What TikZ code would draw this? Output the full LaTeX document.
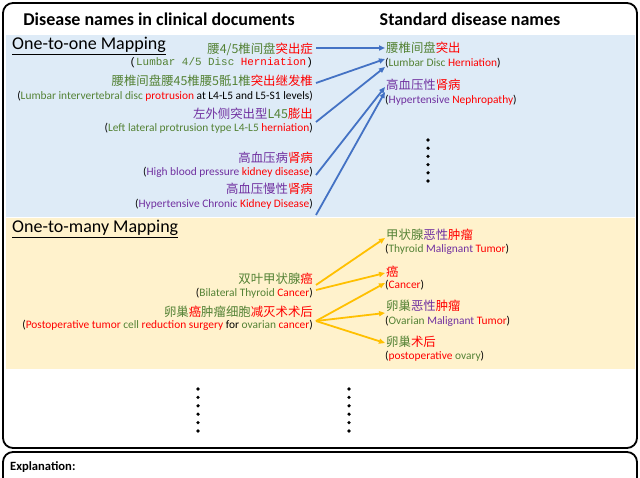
\documentclass[tikz,border=0pt]{standalone}
\usepackage{fontspec}
\setmainfont{Carlito}
\newfontfamily\cjk{Noto Sans CJK SC}
\newfontfamily\monof{Liberation Mono}
\usetikzlibrary{arrows.meta,calc}
\definecolor{cg}{RGB}{84,130,53}
\definecolor{cpu}{RGB}{112,48,160}
\definecolor{crd}{RGB}{255,0,0}
\definecolor{bandblue}{RGB}{222,235,247}
\definecolor{bandyel}{RGB}{255,242,204}
\definecolor{arblue}{RGB}{68,114,196}
\definecolor{aryel}{RGB}{255,192,0}
\newcommand\cgr[1]{\textcolor{cg}{#1}}
\newcommand\crd[1]{\textcolor{crd}{#1}}
\newcommand\cpu[1]{\textcolor{cpu}{#1}}
\tikzset{
  zh/.style={inner sep=0pt,font=\cjk\fontsize{12.4}{14}\selectfont},
  en/.style={inner sep=0pt,font=\fontsize{11.4}{13}\selectfont},
  mo/.style={inner sep=0pt,font=\monof\fontsize{10.9}{13}\selectfont},
  lt/.style={anchor=east},
  rt/.style={anchor=west},
  hdr/.style={inner sep=0pt,font=\bfseries\fontsize{18}{21}\selectfont},
  sec/.style={inner sep=0pt,anchor=west,font=\fontsize{18}{21}\selectfont},
  barrow/.style={draw=arblue,line width=1.8pt,-{Triangle[length=6pt,width=5pt]}},
  yarrow/.style={draw=aryel,line width=1.8pt,-{Triangle[length=6pt,width=5pt]}},
  dotc/.style={fill=black,circle,inner sep=0pt,minimum size=3.6pt},
  frame/.style={draw=black,line width=1.8pt,rounded corners=10pt}
}
\begin{document}
\begin{tikzpicture}[x=1pt,y=-1pt]
\useasboundingbox (0,0) rectangle (640,478);
% bands
\fill[bandblue] (6,35) rectangle (635,217);
\fill[bandyel] (6,218) rectangle (635,369);
% frames
\draw[frame] (3,3) rectangle (637,448);
\draw[frame] (3,452) rectangle (637,520);
% headers
\node[hdr] (h1) at (159,19) {Disease names in clinical documents};
\node[hdr] (h2) at (470,19) {Standard disease names};
\node[sec] (s1) at (12,46) {\underline{One-to-one Mapping}};
\node[sec] (s2) at (12,229) {\underline{One-to-many Mapping}};
\node[inner sep=0pt,anchor=west,font=\bfseries\fontsize{12.6}{15}\selectfont] (ex) at (10,467) {Explanation:};
% left, one-to-one
\node[zh,lt] (l1) at (313,49) {\cgr{腰4/5椎间盘}\crd{突出症}};
\node[mo,lt] (l1e) at (313,63) {(\cgr{Lumbar 4/5 Disc }\crd{Herniation})};
\node[zh,lt] (l2) at (313,81) {\cgr{腰椎间盘腰45椎腰5骶1椎}\crd{突出继发椎}};
\node[en,lt] (l2e) at (313,96) {(\cgr{Lumbar intervertebral disc }\crd{protrusion} at L4-L5 and L5-S1 levels)};
\node[zh,lt] (l3) at (313,114) {\cpu{左外侧突出型}\cgr{L45}\crd{膨出}};
\node[en,lt] (l3e) at (313,128) {(\cgr{Left lateral protrusion type L4-L5 }\crd{herniation})};
\node[zh,lt] (l4) at (313,158) {\cpu{高血压病}\crd{肾病}};
\node[en,lt] (l4e) at (313,172) {(\cpu{High blood pressure }\crd{kidney disease})};
\node[zh,lt] (l5) at (313,189) {\cpu{高血压慢性}\crd{肾病}};
\node[en,lt] (l5e) at (313,204) {(\cpu{Hypertensive Chronic }\crd{Kidney Disease})};
% right, one-to-one
\node[zh,rt] (r1) at (386,48) {\cgr{腰椎间盘}\crd{突出}};
\node[en,rt] (r1e) at (385,63) {(\cgr{Lumbar Disc }\crd{Herniation})};
\node[zh,rt] (r2) at (386,85) {\cpu{高血压性}\crd{肾病}};
\node[en,rt] (r2e) at (385,100) {(\cpu{Hypertensive }\crd{Nephropathy})};
% left, one-to-many
\node[zh,lt] (l6) at (313,279) {\cgr{双叶甲状腺}\crd{癌}};
\node[en,lt] (l6e) at (313,293) {(\cgr{Bilateral Thyroid }\crd{Cancer})};
\node[zh,lt] (l7) at (313,312) {\cgr{卵巢}\crd{癌}\cgr{肿瘤细胞}\crd{减灭术术后}};
\node[en,lt] (l7e) at (313,325) {(\crd{Postoperative tumor} \cgr{cell} \crd{reduction surgery} for \cgr{ovarian} \crd{cancer})};
% right, one-to-many
\node[zh,rt] (r3) at (386,235) {\cgr{甲状腺}\cpu{恶性}\crd{肿瘤}};
\node[en,rt] (r3e) at (385,249) {(\cgr{Thyroid} \cpu{Malignant} \crd{Tumor})};
\node[zh,rt] (r4) at (386,272) {\crd{癌}};
\node[en,rt] (r4e) at (385,285) {(\crd{Cancer})};
\node[zh,rt] (r5) at (386,306) {\cgr{卵巢}\cpu{恶性}\crd{肿瘤}};
\node[en,rt] (r5e) at (385,321) {(\cgr{Ovarian} \cpu{Malignant} \crd{Tumor})};
\node[zh,rt] (r6) at (386,342) {\cgr{卵巢}\crd{术后}};
\node[en,rt] (r6e) at (385,356) {(\crd{postoperative} \cgr{ovary})};
% blue arrows
\draw[barrow] ($(l1.east)+(3,-1)$) -- ($(r1.west)+(-1,0)$);
\draw[barrow] ($(l2.east)+(3,2)$) -- ($(r1e.west)+(0,-4)$);
\draw[barrow] ($(l3e.east)+(3,-6)$) -- ($(r1e.west)+(0,4)$);
\draw[barrow] ($(l4e.east)+(3,3)$) -- ($(r2.west)+(-1,2)$);
\draw[barrow] ($(l5e.east)+(3,11)$) -- ($(r2.west)+(-1,7)$);
% yellow arrows
\draw[yarrow] ($(l6.east)+(3,6)$) -- ($(r3.west)+(-1,3)$);
\draw[yarrow] ($(l6.east)+(3,11)$) -- ($(r4.west)+(-1,1)$);
\draw[yarrow] ($(l7e.east)+(3,-4)$) -- ($(r4e.west)+(0,-2)$);
\draw[yarrow] ($(l7e.east)+(3,-4)$) -- ($(r5.west)+(-1,7)$);
\draw[yarrow] ($(l7e.east)+(3,-4)$) -- ($(r6.west)+(-1,1)$);
% dots
\foreach \i in {0,...,5} {
  \node[dotc] (da\i) at (428,140+8.2*\i) {};
  \node[dotc] (db\i) at (198,389+8.4*\i) {};
  \node[dotc] (dc\i) at (349,389+8.4*\i) {};
}
\end{tikzpicture}
\end{document}
